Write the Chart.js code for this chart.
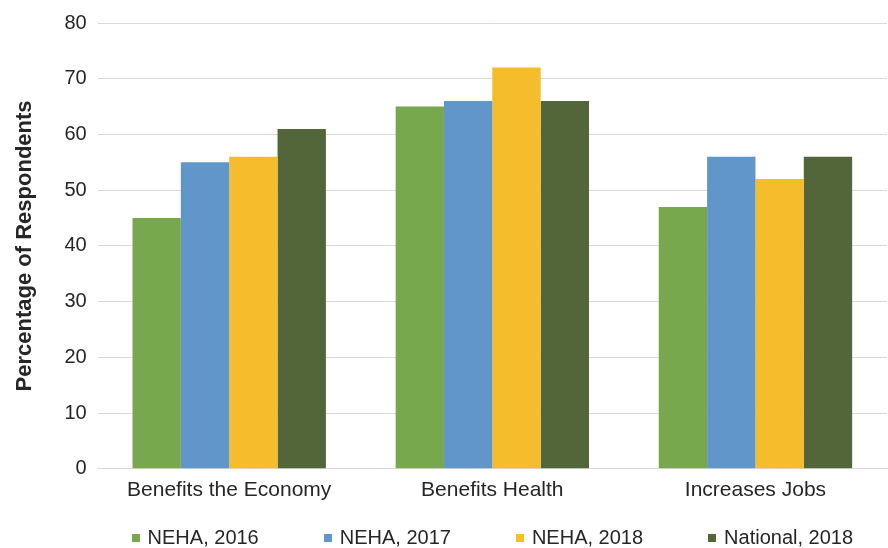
<!DOCTYPE html>
<html>
<head>
<meta charset="utf-8">
<script src="https://cdn.jsdelivr.net/npm/chart.js@4.4.1/dist/chart.umd.min.js"></script>
<style>
    html, body { margin: 0; padding: 0; background: #fff; }
    #chartBox { width: 888px; height: 548px; }
</style>
</head>
<body>
<div id="chartBox"><canvas id="perceptionChart"></canvas></div>
<script>
const categories = ['Benefits the Economy', 'Benefits Health', 'Increases Jobs'];
const neha2016 = [45, 65, 47];
const neha2017 = [55, 66, 56];
const neha2018 = [56, 72, 52];
const national2018 = [61, 66, 56];
const yTicks = [0, 10, 20, 30, 40, 50, 60, 70, 80];

const textColor = '#262626';
const fontFamily = '"Liberation Sans", Arial, sans-serif';
Chart.defaults.font.family = fontFamily;
Chart.defaults.color = textColor;

function MakeDataset(label, values, color) {
    return {
        label: label,
        data: values,
        backgroundColor: color,
        borderWidth: 0,
        categoryPercentage: 0.735,
        barPercentage: 1.0
    };
}

// Single-row legend centred under the plot area, with wide gaps between entries
const wideLegend = {
    id: 'wideLegend',
    afterDraw(chart) {
        const ctx = chart.ctx;
        const area = chart.chartArea;
        const boxSize = 8;
        const boxGap = 8;
        const itemGap = 65;
        const centerY = 538;

        ctx.save();
        ctx.font = '20px ' + fontFamily;
        ctx.textBaseline = 'middle';
        ctx.textAlign = 'left';

        const items = chart.data.datasets.map(ds => ({
            text: ds.label,
            color: ds.backgroundColor,
            width: boxSize + boxGap + ctx.measureText(ds.label).width
        }));
        const total = items.reduce((sum, it) => sum + it.width, 0) + itemGap * (items.length - 1);
        let x = (area.left + area.right) / 2 - total / 2;

        items.forEach(it => {
            ctx.fillStyle = it.color;
            ctx.fillRect(Math.round(x), Math.round(centerY - boxSize / 2), boxSize, boxSize);
            ctx.fillStyle = textColor;
            ctx.fillText(it.text, x + boxSize + boxGap, centerY);
            x += it.width + itemGap;
        });
        ctx.restore();
    }
};

function LoadBarChart(chartId) {
    const context = document.getElementById(chartId).getContext('2d');

    new Chart(context, {
        type: 'bar',
        data: {
            labels: categories,
            datasets: [
                MakeDataset('NEHA, 2016', neha2016, '#77A84E'),
                MakeDataset('NEHA, 2017', neha2017, '#6096CA'),
                MakeDataset('NEHA, 2018', neha2018, '#F5BC2B'),
                MakeDataset('National, 2018', national2018, '#536639')
            ]
        },
        options: {
            responsive: true,
            maintainAspectRatio: false,
            animation: false,
            layout: {
                padding: { top: 17, right: 1, bottom: 44, left: 12 }
            },
            scales: {
                x: {
                    grid: { display: false },
                    border: { color: '#D9D9D9', width: 1 },
                    ticks: { font: { size: 21 }, padding: 1, color: textColor }
                },
                y: {
                    min: 0,
                    max: 80,
                    afterBuildTicks: (axis) => {
                        axis.ticks = yTicks.map(v => ({ value: v }));
                    },
                    grid: { color: '#D9D9D9', lineWidth: 1, drawTicks: false },
                    border: { display: false },
                    ticks: { font: { size: 20 }, padding: 11, color: textColor },
                    title: {
                        display: true,
                        text: 'Percentage of Respondents',
                        font: { size: 22, weight: 'bold' },
                        color: textColor,
                        padding: { top: 0, bottom: 15 }
                    }
                }
            },
            plugins: {
                legend: { display: false },
                tooltip: { enabled: false }
            }
        },
        plugins: [wideLegend]
    });
}

LoadBarChart('perceptionChart');
</script>
</body>
</html>
